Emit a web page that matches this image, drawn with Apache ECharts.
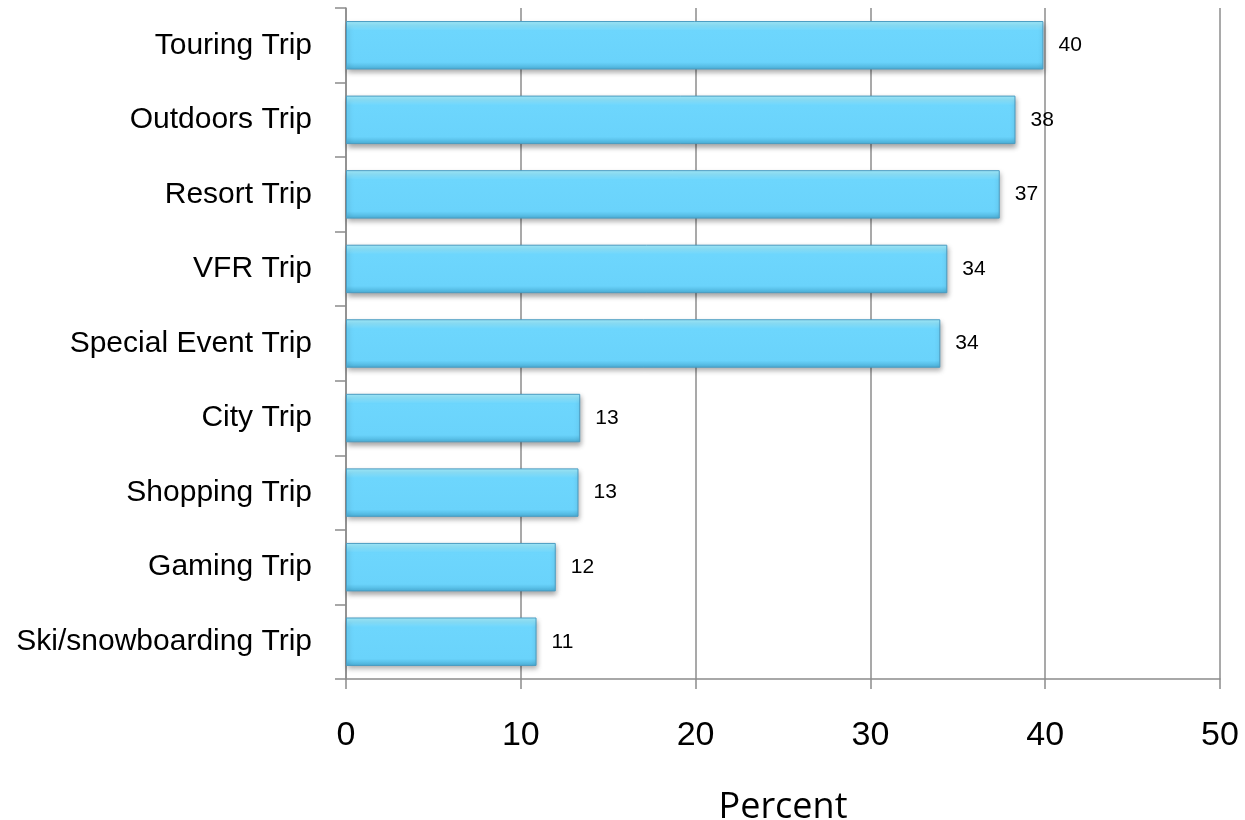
<!DOCTYPE html>
<html>
<head>
<meta charset="utf-8">
<script src="https://cdn.jsdelivr.net/npm/echarts@6/dist/echarts.min.js"></script>
<style>
html,body{margin:0;padding:0;background:#fff;}
#chart{width:1245px;height:820px;}
</style>
</head>
<body>
<div id="chart"></div>
<script>
const categories = ["Touring Trip","Outdoors Trip","Resort Trip","VFR Trip","Special Event Trip","City Trip","Shopping Trip","Gaming Trip","Ski/snowboarding Trip"];
const percentValues = [39.9, 38.3, 37.4, 34.4, 34.0, 13.4, 13.3, 12.0, 10.9];
const xTicks = [0, 10, 20, 30, 40, 50];
const xAxisName = "Percent";

const chart = echarts.init(document.getElementById('chart'), null, {renderer:'canvas'});
const axisGray = '#8c8c8c';
chart.setOption({
  animation: false,
  backgroundColor: '#ffffff',
  grid: {left: 346, right: 25, top: 8, bottom: 141, containLabel: false, outerBoundsMode: 'none'},
  xAxis: {
    type: 'value',
    min: xTicks[0], max: xTicks[xTicks.length-1], interval: 10,
    axisLine: {show: true, lineStyle: {color: axisGray, width: 1.5}},
    axisTick: {show: true, length: 10, lineStyle: {color: axisGray, width: 1.5}},
    splitLine: {show: true, lineStyle: {color: axisGray, width: 1.5}},
    axisLabel: {fontFamily: 'Liberation Sans, Arial, sans-serif', fontSize: 34, color: '#000', margin: 40},
    name: xAxisName,
    nameLocation: 'middle',
    nameGap: 111,
    nameTextStyle: {fontFamily: 'Open Sans, Lato, sans-serif', fontSize: 36, color: '#000'}
  },
  yAxis: {
    type: 'category',
    inverse: true,
    data: categories,
    axisLine: {show: true, lineStyle: {color: axisGray, width: 1.5}},
    axisTick: {show: true, length: 11, lineStyle: {color: axisGray, width: 1.5}},
    axisLabel: {fontFamily: 'Liberation Sans, Arial, sans-serif', fontSize: 30, color: '#000', margin: 34},
    splitLine: {show: false}
  },
  series: [{
    type: 'bar',
    data: percentValues,
    barCategoryGap: '35%',
    itemStyle: {
      color: new echarts.graphic.LinearGradient(0, 0, 0, 1, [
        {offset: 0, color: '#a6efff'},
        {offset: 0.1, color: '#8ae4ff'},
        {offset: 0.2, color: '#6dd6fd'},
        {offset: 0.85, color: '#6ad3fb'},
        {offset: 1, color: '#4aaed6'}
      ]),
      borderColor: '#4a9cc2',
      borderWidth: 1,
      shadowColor: 'rgba(0,0,0,0.35)',
      shadowBlur: 5,
      shadowOffsetX: 1,
      shadowOffsetY: 3
    },
    label: {
      show: true,
      position: 'right',
      distance: 15,
      fontFamily: 'Liberation Sans, Arial, sans-serif',
      fontSize: 21,
      color: '#000',
      formatter: p => String(Math.round(p.value))
    }
  }]
});
</script>
</body>
</html>
